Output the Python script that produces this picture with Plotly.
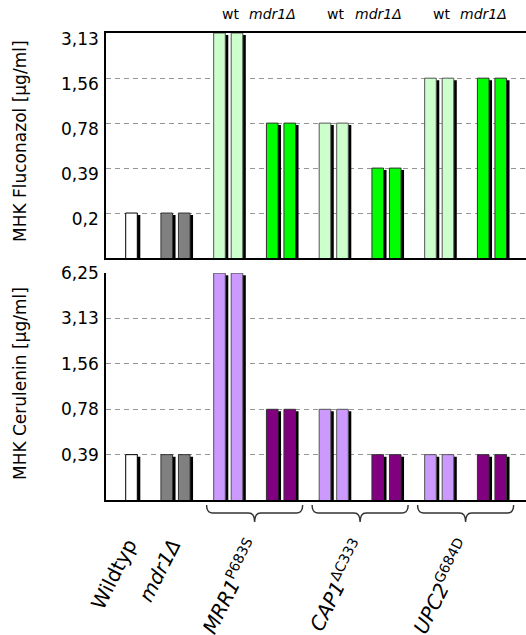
import math
import plotly.graph_objects as go

# ---- data -------------------------------------------------------------
# one slot per strain on the x axis
strains = ["Wildtyp", "mdr1Δ", "MRR1 wt", "MRR1 mdr1Δ",
           "CAP1 wt", "CAP1 mdr1Δ", "UPC2 wt", "UPC2 mdr1Δ"]

# MIC values (µg/ml), two replicates per strain; Wildtyp has a single bar
fluconazol_rep1 = [None, 0.195, 3.13, 0.78, 0.78, 0.39, 1.56, 1.56]
fluconazol_rep2 = [0.195, 0.195, 3.13, 0.78, 0.78, 0.39, 1.56, 1.56]
cerulenin_rep1 = [None, 0.39, 6.25, 0.78, 0.78, 0.39, 0.39, 0.39]
cerulenin_rep2 = [0.39, 0.39, 6.25, 0.78, 0.78, 0.39, 0.39, 0.39]

fluconazol_ticks = [0.195, 0.39, 0.78, 1.56, 3.13]
fluconazol_ticktext = ["0,2", "0,39", "0,78", "1,56", "3,13"]
cerulenin_ticks = [0.39, 0.78, 1.56, 3.13, 6.25]
cerulenin_ticktext = ["0,39", "0,78", "1,56", "3,13", "6,25"]

# lowest dilution step shown at the bottom of each panel
fluconazol_floor = 0.0975
cerulenin_floor = 0.195

top_labels = ["wt", "<i>mdr1Δ</i>", "wt", "<i>mdr1Δ</i>", "wt", "<i>mdr1Δ</i>"]
top_label_slots = [2, 3, 4, 5, 6, 7]

group_labels = ["Wildtyp", "<i>mdr1Δ</i>", "<i>MRR1</i><sup>P683S</sup>",
                "<i>CAP1</i><sup>ΔC333</sup>", "<i>UPC2</i><sup>G684D</sup>"]
group_label_pos = [0.166, 1, 2.5, 4.5, 6.5]
brace_groups = [(2, 3), (4, 5), (6, 7)]

# ---- styling ----------------------------------------------------------
W, H = 526, 635
FONT = "DejaVu Sans"
fluc_colors = ["#ffffff", "#808080", "#ccffcc", "#00ff00",
               "#ccffcc", "#00ff00", "#ccffcc", "#00ff00"]
ceru_colors = ["#ffffff", "#808080", "#cc99ff", "#800080",
               "#cc99ff", "#800080", "#cc99ff", "#800080"]
edge_colors = ["#000000", "#333333", "#555555", "#333333",
               "#555555", "#333333", "#555555", "#333333"]

slot_px = 52.75            # pixel width of one strain slot
x_range = [-0.3175, 7.645]
pair_off = 0.166           # replicate offset from slot centre
bar_w = 0.22
shadow_dx = 3 / slot_px    # drop shadow offset to the right
shadow_dy = 2              # drop shadow offset downwards (px)


def px_y(p):
    return 1 - p / H


top_dom = [px_y(258), px_y(33)]
bot_dom = [px_y(500), px_y(273)]
x_dom = [106 / W, 1.0]

fig = go.Figure()


def add_panel(rep1, rep2, colors, xa, ya, step_px):
    shrink = 2 ** (-shadow_dy / step_px)
    xs = list(range(len(strains)))
    for rep, off in ((rep1, -pair_off), (rep2, pair_off)):
        shadow = [None if v is None else v * shrink for v in rep]
        fig.add_trace(go.Bar(
            x=xs, y=shadow, xaxis=xa, yaxis=ya,
            offset=off - bar_w / 2 + shadow_dx, width=bar_w,
            marker=dict(color="#000000", line=dict(width=0)),
            showlegend=False, hoverinfo="skip"))
    for rep, off in ((rep1, -pair_off), (rep2, pair_off)):
        fig.add_trace(go.Bar(
            x=xs, y=rep, xaxis=xa, yaxis=ya,
            offset=off - bar_w / 2, width=bar_w,
            marker=dict(color=colors, line=dict(color=edge_colors, width=1)),
            showlegend=False))


add_panel(fluconazol_rep1, fluconazol_rep2, fluc_colors, "x", "y", 45)
add_panel(cerulenin_rep1, cerulenin_rep2, ceru_colors, "x2", "y2", 45.4)

grid = dict(showgrid=True, gridcolor="#959595", griddash="5px,4px", gridwidth=1)
yaxis_common = dict(type="log", tickmode="array", ticks="", automargin=False,
                    showline=True, linecolor="#000000", linewidth=1.5,
                    tickfont=dict(family=FONT, size=17, color="#000000"),
                    ticklabelstandoff=2, zeroline=False, **grid)
xaxis_common = dict(range=x_range, domain=x_dom, showgrid=False, zeroline=False,
                    showticklabels=False, ticks="", automargin=False,
                    showline=True, linecolor="#000000", linewidth=1.5)

fig.update_layout(
    width=W, height=H, margin=dict(l=0, r=0, t=0, b=0, autoexpand=False),
    paper_bgcolor="#ffffff", plot_bgcolor="#ffffff",
    barmode="overlay",
    font=dict(family=FONT, color="#000000"),
    xaxis=dict(anchor="y", mirror=True, **xaxis_common),
    yaxis=dict(domain=top_dom, anchor="x",
               range=[math.log10(fluconazol_floor), math.log10(3.13)],
               tickvals=fluconazol_ticks, ticktext=fluconazol_ticktext,
               ticklabelshift=6, **yaxis_common),
    xaxis2=dict(anchor="y2", **xaxis_common),
    yaxis2=dict(domain=bot_dom, anchor="x2",
                range=[math.log10(cerulenin_floor), math.log10(6.25) + 0.001],
                tickvals=cerulenin_ticks, ticktext=cerulenin_ticktext,
                **yaxis_common),
)

ann = []
# axis titles
ann.append(dict(text="MHK Fluconazol [µg/ml]", xref="paper", yref="paper",
                x=20 / W, y=px_y(141), xanchor="center", yanchor="middle",
                textangle=-90, showarrow=False,
                font=dict(family=FONT, size=17)))
ann.append(dict(text="MHK Cerulenin [µg/ml]", xref="paper", yref="paper",
                x=20 / W, y=px_y(384), xanchor="center", yanchor="middle",
                textangle=-90, showarrow=False,
                font=dict(family=FONT, size=17)))
# genotype labels above the top panel
for txt, s in zip(top_labels, top_label_slots):
    ann.append(dict(text=txt, xref="x", yref="paper", x=s, y=px_y(14),
                    xanchor="center", yanchor="middle",
                    showarrow=False, xshift=(-8 if "mdr1" in txt else 2),
                    font=dict(family=FONT, size=14)))
# rotated strain labels under the bottom panel
for txt, pos in zip(group_labels, group_label_pos):
    ann.append(dict(text=txt, xref="x2", yref="paper", x=pos, y=px_y(532),
                    xanchor="right", yanchor="top", textangle=-63,
                    xshift=13, showarrow=False,
                    font=dict(family=FONT, size=20)))
fig.update_layout(annotations=ann)

# curly braces grouping wt / mdr1Δ pairs
shapes = []
half = 0.41
dx = 6 / slot_px
y_top, y_mid, y_tip = px_y(505), px_y(513), px_y(522)
for a, b in brace_groups:
    xl, xr = a - half, b + half
    xc = (a + b) / 2
    path = (f"M {xl},{y_top} Q {xl},{y_mid} {xl + dx},{y_mid} "
            f"L {xc - dx},{y_mid} Q {xc},{y_mid} {xc},{y_tip} "
            f"Q {xc},{y_mid} {xc + dx},{y_mid} "
            f"L {xr - dx},{y_mid} Q {xr},{y_mid} {xr},{y_top}")
    shapes.append(dict(type="path", path=path, xref="x2", yref="paper",
                       line=dict(color="#333333", width=1.4)))
fig.update_layout(shapes=shapes)

fig.write_html("out.html")
